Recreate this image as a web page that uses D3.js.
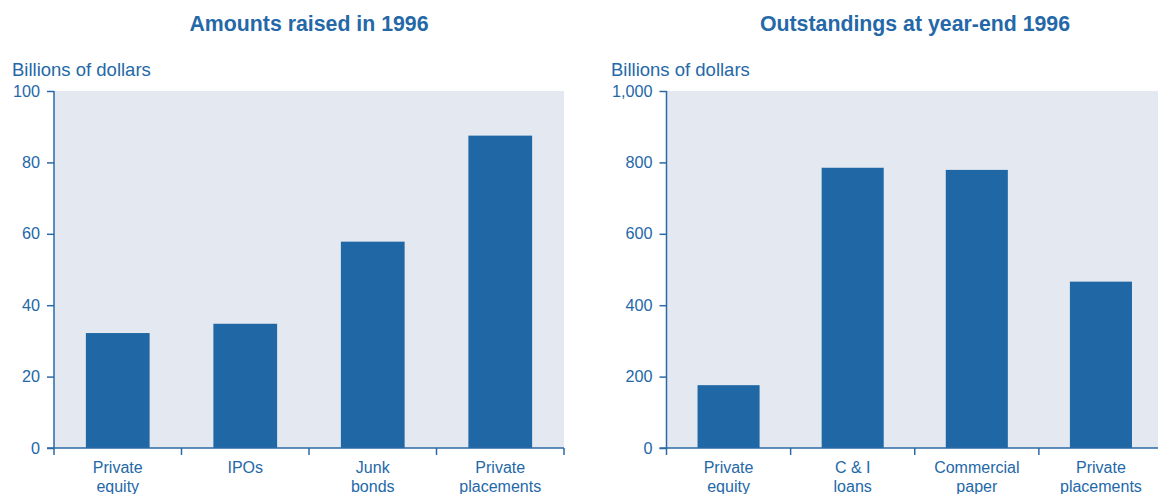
<!DOCTYPE html>
<html>
<head>
<meta charset="utf-8">
<script src="https://cdn.jsdelivr.net/npm/d3@7"></script>
<style>
  html, body { margin: 0; padding: 0; background: #fff; }
  svg { display: block; font-family: "Liberation Sans", Arial, sans-serif; }
</style>
</head>
<body>
<svg id="chart" width="1158" height="494"></svg>
<script>
// Left panel: amounts raised in 1996 (billions of dollars)
const raisedCategories = [["Private", "equity"], ["IPOs"], ["Junk", "bonds"], ["Private", "placements"]];
const raisedValues = [32.2, 34.8, 57.8, 87.5];
const raisedTicks = [0, 20, 40, 60, 80, 100];

// Right panel: outstandings at year-end 1996 (billions of dollars)
const outstandingCategories = [["Private", "equity"], ["C & I", "loans"], ["Commercial", "paper"], ["Private", "placements"]];
const outstandingValues = [176, 785, 779, 466];
const outstandingTicks = [0, 200, 400, 600, 800, 1000];

const textColor = "#2468a8";
const axisColor = "#2c6aa6";
const barColor = "#1f68a5";
const plotBg = "#e4e8f1";

const svg = d3.select("#chart");

function drawPanel(opts) {
  const { title, categories, values, ticks, domainMax, x0, x1, titleX, unitX } = opts;
  const yTop = 91, yBottom = 448;
  const g = svg.append("g");

  const x = d3.scaleBand()
    .domain(d3.range(categories.length))
    .range([x0, x1])
    .paddingInner(0.5)
    .paddingOuter(0.25);
  const xb = d3.scaleBand().domain(d3.range(categories.length)).range([x0, x1]);
  const y = d3.scaleLinear().domain([0, domainMax]).range([yBottom, yTop]);

  // plot background
  g.append("rect")
    .attr("x", x0).attr("y", yTop)
    .attr("width", x1 - x0).attr("height", yBottom - yTop)
    .attr("fill", plotBg);

  // bars
  g.selectAll("rect.bar")
    .data(values)
    .join("rect")
    .attr("class", "bar")
    .attr("x", (d, i) => x(i))
    .attr("width", x.bandwidth())
    .attr("y", d => y(d))
    .attr("height", d => yBottom - y(d))
    .attr("fill", barColor);

  // y axis
  const fmt = d3.format(",");
  const yAxis = d3.axisLeft(y).tickValues(ticks).tickSize(7).tickPadding(7).tickFormat(fmt);
  const ya = g.append("g").attr("transform", `translate(${x0},0)`).call(yAxis);
  ya.select(".domain").remove();
  ya.selectAll(".tick line").attr("stroke", axisColor).attr("stroke-width", 1.5);
  ya.selectAll(".tick text")
    .attr("fill", textColor)
    .attr("font-size", 16.2)
    .attr("font-family", "Liberation Sans, Arial, sans-serif");
  g.append("line")
    .attr("x1", x0).attr("x2", x0)
    .attr("y1", yTop).attr("y2", yBottom)
    .attr("stroke", axisColor).attr("stroke-width", 1.5);

  // x axis baseline and category boundary ticks
  g.append("line")
    .attr("x1", x0 - 7).attr("x2", x1)
    .attr("y1", yBottom).attr("y2", yBottom)
    .attr("stroke", axisColor).attr("stroke-width", 1.5);
  const bounds = d3.range(categories.length).map(i => xb(i)).concat([x1]);
  g.selectAll("line.xtick")
    .data(bounds)
    .join("line")
    .attr("class", "xtick")
    .attr("x1", d => d).attr("x2", d => d)
    .attr("y1", yBottom).attr("y2", yBottom + 7)
    .attr("stroke", axisColor).attr("stroke-width", 1.5);

  // category labels
  const labels = g.selectAll("text.cat")
    .data(categories)
    .join("text")
    .attr("class", "cat")
    .attr("x", (d, i) => xb(i) + xb.bandwidth() / 2)
    .attr("y", 472.5)
    .attr("text-anchor", "middle")
    .attr("fill", textColor)
    .attr("font-size", 16);
  labels.selectAll("tspan")
    .data(d => d)
    .join("tspan")
    .attr("x", function () { return d3.select(this.parentNode).attr("x"); })
    .attr("dy", (d, i) => i === 0 ? 0 : 19)
    .text(d => d);

  // title
  g.append("text")
    .attr("x", titleX).attr("y", 31)
    .attr("text-anchor", "middle")
    .attr("fill", textColor)
    .attr("font-size", 21.3)
    .attr("font-weight", "bold")
    .text(title);

  // units label
  g.append("text")
    .attr("x", unitX).attr("y", 75.5)
    .attr("fill", textColor)
    .attr("font-size", 18.5)
    .text("Billions of dollars");
}

drawPanel({
  title: "Amounts raised in 1996",
  categories: raisedCategories,
  values: raisedValues,
  ticks: raisedTicks,
  domainMax: 100,
  x0: 54, x1: 564,
  titleX: 309, unitX: 12
});

drawPanel({
  title: "Outstandings at year-end 1996",
  categories: outstandingCategories,
  values: outstandingValues,
  ticks: outstandingTicks,
  domainMax: 1000,
  x0: 666.5, x1: 1163,
  titleX: 915, unitX: 611
});
</script>
</body>
</html>
